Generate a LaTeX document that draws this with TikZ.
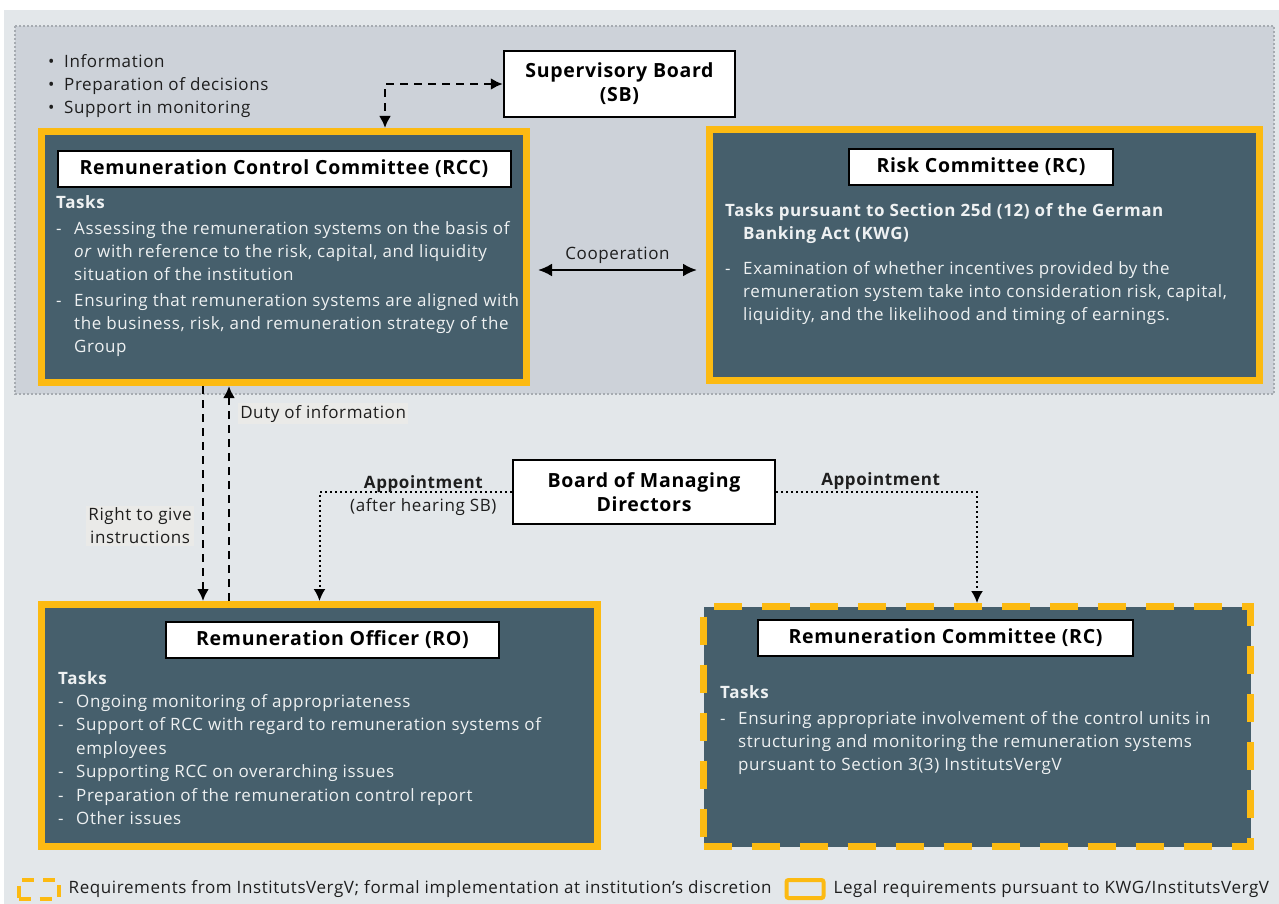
\documentclass[tikz,border=0pt]{standalone}
\usepackage{fontspec}
\setmainfont{Open Sans}[LetterSpace=3.5]
\usepackage{xcolor}
\usepackage{tikz}
\usetikzlibrary{arrows.meta,positioning,calc}

\definecolor{boxfill}{HTML}{465F6C}
\definecolor{legalyellow}{HTML}{FCBA12}
\definecolor{panelgray}{HTML}{E3E7EA}
\definecolor{boardgray}{HTML}{CDD2D9}
\definecolor{dotgray}{HTML}{A6ABB1}
\definecolor{labelbg}{HTML}{EAEAE8}
\definecolor{boxtext}{HTML}{EEF1F2}
\definecolor{inktext}{HTML}{1E1E1E}

\newcommand{\bodyfont}{\fontsize{17}{23}\selectfont}
\newcommand{\dashitem}[1]{\makebox[18pt][l]{-}#1}
\newcommand{\contitem}[1]{\hspace*{18pt}#1}
\newcommand{\dotitem}[1]{\makebox[16pt][l]{\textbullet}#1}

\tikzstyle{committee} = [rectangle, draw=legalyellow, fill=boxfill, line width=7pt, inner sep=0pt]
\tikzstyle{optcommittee} = [committee, dash pattern=on 28pt off 20pt]
\tikzstyle{titlebox} = [rectangle, draw=black, fill=white, line width=2pt, minimum height=36pt,
    font=\fontsize{19.5}{22}\selectfont\bfseries, inner sep=0pt]
\tikzstyle{board} = [rectangle, draw=black, fill=white, line width=2.5pt, align=center,
    font=\fontsize{19.5}{24}\selectfont\bfseries]
\tikzstyle{tasks} = [anchor=north west, inner sep=0pt, align=left, text=boxtext, font=\bodyfont]
\tikzstyle{note} = [inner sep=2pt, text=inktext, font=\bodyfont]
\tikzstyle{dashedline} = [draw, line width=2.5pt, dash pattern=on 8pt off 6pt, -{Latex[length=12pt,width=12pt]}]
\tikzstyle{dottedline} = [draw, line width=2pt, dash pattern=on 2pt off 3pt, -{Latex[length=12pt,width=12pt]}]
\tikzstyle{coopline} = [draw, line width=2.5pt, {Latex[length=14pt,width=13pt]}-{Latex[length=14pt,width=13pt]}]

\begin{document}
\begin{tikzpicture}[x=1pt, y=-1pt]
    \useasboundingbox (0,0) rectangle (1279,904);
    % Backgrounds
    \fill[panelgray] (4,10) rectangle (1279,904);
    \filldraw[fill=boardgray, draw=dotgray, line width=2pt, dash pattern=on 2pt off 2pt] (15,26) rectangle (1274,394);

    % Place nodes
    \node [board, minimum width=231pt, minimum height=66pt] (sb) at (619.5,84) {Supervisory Board\\(SB)};
    \node [note, anchor=north west, align=left] (sbduties) at (46,52) {\dotitem{Information}\\
        \dotitem{Preparation of decisions}\\ \dotitem{Support in monitoring}};
    \node [committee, minimum width=485pt, minimum height=251pt] (rcc) at (284,257) {};
    \node [committee, minimum width=550pt, minimum height=251pt] (risk) at (984.5,255) {};
    \node [board, minimum width=262pt, minimum height=64pt] (bmd) at (644,492) {Board of Managing\\Directors};
    \node [committee, minimum width=556pt, minimum height=242pt] (ro) at (319.5,725.5) {};
    \node [optcommittee, minimum width=547pt, minimum height=240pt] (rc) at (977,726.5) {};

    \node [titlebox, minimum width=453pt, below=22pt of rcc.north] (rcctitle) {Remuneration Control Committee (RCC)};
    \node [titlebox, minimum width=264pt, below=22pt of risk.north, xshift=-3.5pt] (risktitle) {Risk Committee (RC)};
    \node [titlebox, minimum width=333pt, below=20pt of ro.north, xshift=13pt] (rotitle) {Remuneration Officer (RO)};
    \node [titlebox, minimum width=375pt, below=16pt of rc.north, xshift=-31.5pt] (rctitle) {Remuneration Committee (RC)};

    \node [tasks] (rcctasks) at (56,195) {\textbf{Tasks}\\[3pt]
        \dashitem{Assessing the remuneration systems on the basis of}\\
        \contitem{\textit{or} with reference to the risk, capital, and liquidity}\\
        \contitem{situation of the institution}\\[3pt]
        \dashitem{Ensuring that remuneration systems are aligned with}\\
        \contitem{the business, risk, and remuneration strategy of the}\\
        \contitem{Group}};
    \node [tasks] (risktasks) at (725,203) {\textbf{Tasks pursuant to Section 25d (12) of the German}\\
        \contitem{\textbf{Banking Act (KWG)}}\\[12pt]
        \dashitem{Examination of whether incentives provided by the}\\
        \contitem{remuneration system take into consideration risk, capital,}\\
        \contitem{liquidity, and the likelihood and timing of earnings.}};
    \node [tasks, font=\fontsize{17}{23.4}\selectfont] (rotasks) at (58,671) {\textbf{Tasks}\\
        \dashitem{Ongoing monitoring of appropriateness}\\
        \dashitem{Support of RCC with regard to remuneration systems of}\\
        \contitem{employees}\\
        \dashitem{Supporting RCC on overarching issues}\\
        \dashitem{Preparation of the remuneration control report}\\
        \dashitem{Other issues}};
    \node [tasks] (rctasks) at (720,685) {\textbf{Tasks}\\[3pt]
        \dashitem{Ensuring appropriate involvement of the control units in}\\
        \contitem{structuring and monitoring the remuneration systems}\\
        \contitem{pursuant to Section 3(3) InstitutsVergV}};

    % Legend
    \node [draw=legalyellow, line width=4pt, dash pattern=on 12pt off 9pt, minimum width=40pt,
        minimum height=19pt, inner sep=0pt] (optkey) at (38.5,889) {};
    \node [note, right=6pt of optkey, font=\fontsize{17}{20}\selectfont] (optlabel) {Requirements from InstitutsVergV; formal implementation at institution's discretion};
    \node [draw=legalyellow, line width=4pt, rounded corners=2pt, minimum width=37pt,
        minimum height=18pt, inner sep=0pt] (legalkey) at (805,889) {};
    \node [note, right=6pt of legalkey, font=\fontsize{17}{20}\selectfont] (legallabel) {Legal requirements pursuant to KWG/InstitutsVergV};

    % Draw edges
    \path [dashedline, {Latex[length=12pt,width=12pt]}-{Latex[length=12pt,width=12pt]}] (sb.west) -| ([xshift=101pt]rcc.north);
    \path [coopline] ([shift={(8,13)}]rcc.east) -- node [note, above=3pt] {Cooperation} ([shift={(-9,15)}]risk.west);
    \path [dashedline] ([xshift=-81pt]rcc.south) -- node [note, pos=0.65, left=8pt, align=center, fill=labelbg] {Right to give\\instructions} ([xshift=-81pt]rcc.south |- ro.north);
    \path [dashedline] ([xshift=-55pt]rcc.south |- ro.north) -- node [note, pos=0.87, right=8pt, fill=labelbg] {Duty of information} ([xshift=-55pt]rcc.south);
    \path [dottedline] (bmd.west) -| node [note, pos=0.23, above=-4pt, font=\bodyfont\bfseries] {Appointment}
        node [note, pos=0.23, below=3pt] {(after hearing SB)} (ro.north);
    \path [dottedline] (bmd.east) -| node [note, pos=0.26, above=-1pt, font=\bodyfont\bfseries] {Appointment} (rc.north);
\end{tikzpicture}
\end{document}
